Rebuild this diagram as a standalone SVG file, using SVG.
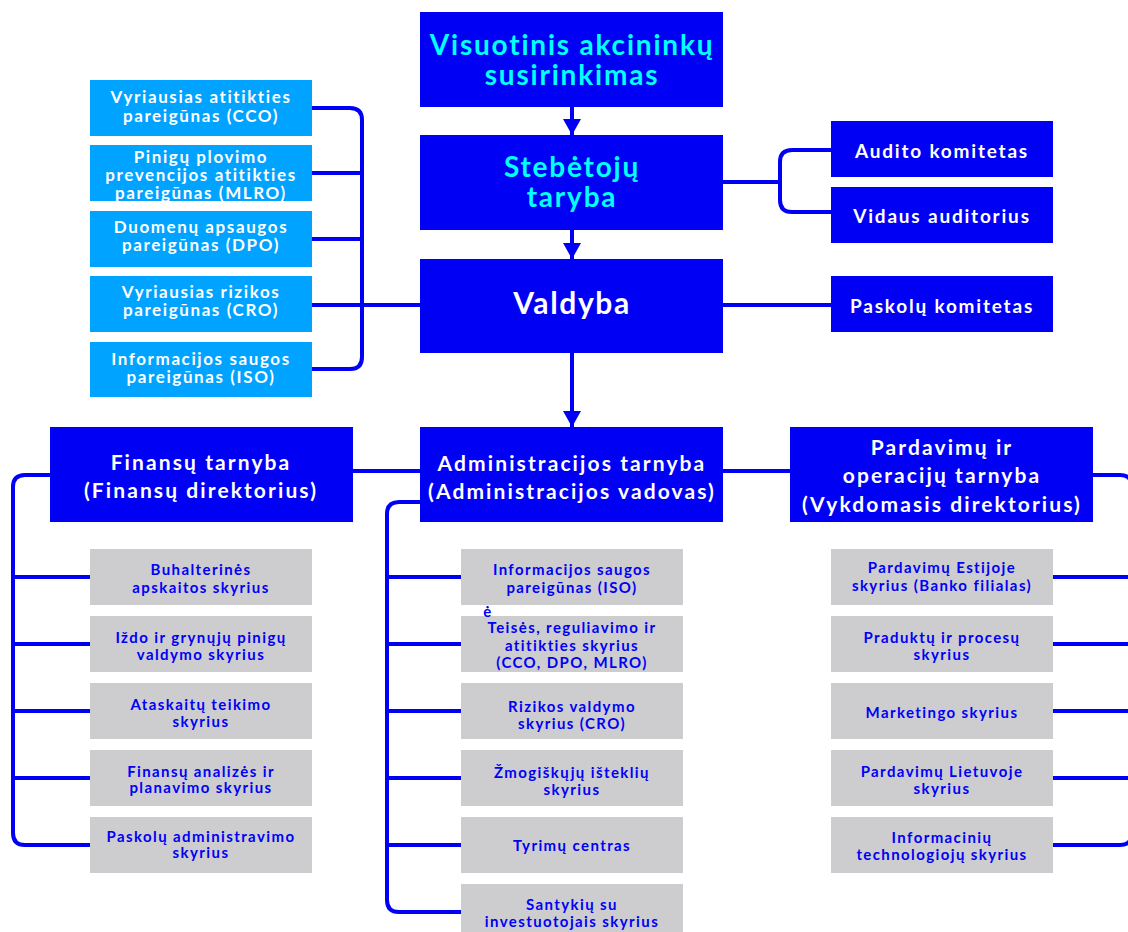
<svg xmlns="http://www.w3.org/2000/svg" width="1128" height="932" viewBox="0 0 1128 932">
<defs>
<style>
.top{fill:#0000F5}
.lb{fill:#00A3FF}
.gr{fill:#CDCDD0}
.c{fill:none;stroke:#0000F5;stroke-width:4}
text{font-family:"Lato","Liberation Sans",sans-serif;font-weight:bold;text-anchor:middle}
.cy{fill:#00FFFF;font-size:28px;letter-spacing:1.8px}
.w30{fill:#FFFFFF;font-size:30px;letter-spacing:1.6px}
.w20{fill:#FFFFFF;font-size:21px;letter-spacing:2.1px}
.w18{fill:#FFFFFF;font-size:19px;letter-spacing:1.8px}
.w16{fill:#FFFFFF;font-size:17px;letter-spacing:1.6px}
.b15{fill:#0000F5;font-size:15px;letter-spacing:1.4px}
</style>
<marker id="ah" viewBox="0 0 16 18" markerWidth="16" markerHeight="18" refX="16" refY="9" orient="auto" markerUnits="userSpaceOnUse">
<path d="M0,0 L16,9 L0,18 z" fill="#0000F5"/>
</marker>
<clipPath id="clipMlro"><rect x="90" y="145" width="222" height="56"/></clipPath>
</defs>
<rect width="1128" height="932" fill="#FFFFFF"/>

<g id="connectors">
<path class="c" d="M572,107 V135" marker-end="url(#ah)"/>
<path class="c" d="M572,230 V259" marker-end="url(#ah)"/>
<path class="c" d="M572,353 V427" marker-end="url(#ah)"/>
<path class="c" d="M312,108 H350 Q362,108 362,120 V357 Q362,369 350,369 H312"/>
<path class="c" d="M312,173 H362 M312,239 H362 M312,305 H420"/>
<path class="c" d="M723,182 H780"/>
<path class="c" d="M831,150 H792 Q780,150 780,162 V200 Q780,212 792,212 H831"/>
<path class="c" d="M723,305 H831"/>
<path class="c" d="M353,471 H420 M723,471 H790"/>
<path class="c" d="M50,475 H25 Q13,475 13,487 V833 Q13,845 25,845 H90"/>
<path class="c" d="M13,577 H90 M13,644 H90 M13,711 H90 M13,778 H90"/>
<path class="c" d="M420,502 H399 Q387,502 387,514 V900 Q387,912 399,912 H461"/>
<path class="c" d="M387,577 H461 M387,644 H461 M387,711 H461 M387,778 H461 M387,845 H461"/>
<path class="c" d="M1093,475 H1120 Q1132,475 1132,487 V833 Q1132,845 1120,845 H1053"/>
<path class="c" d="M1053,577 H1132 M1053,644 H1132 M1053,711 H1132 M1053,778 H1132"/>
</g>

<g id="n-visuotinis"><rect class="top" x="420" y="12" width="303" height="95"/>
<text class="cy" x="572" y="55">Visuotinis akcininkų</text><text class="cy" x="572" y="85">susirinkimas</text></g>
<g id="n-stebetoju"><rect class="top" x="420" y="135" width="303" height="95"/>
<text class="cy" x="572" y="177">Stebėtojų</text><text class="cy" x="572" y="207">taryba</text></g>
<g id="n-valdyba"><rect class="top" x="420" y="259" width="303" height="94"/>
<text class="w30" x="572" y="314">Valdyba</text></g>

<g id="n-audito"><rect class="top" x="831" y="121" width="222" height="56"/><text class="w18" x="942" y="158">Audito komitetas</text></g>
<g id="n-vidaus"><rect class="top" x="831" y="187" width="222" height="56"/><text class="w18" x="942" y="223">Vidaus auditorius</text></g>
<g id="n-paskolu-kom"><rect class="top" x="831" y="276" width="222" height="56"/><text class="w18" x="942" y="313">Paskolų komitetas</text></g>

<g id="n-cco"><rect class="lb" x="90" y="80" width="222" height="56"/>
<text class="w16" x="201" y="103">Vyriausias atitikties</text><text class="w16" x="201" y="122">pareigūnas (CCO)</text></g>
<g id="n-mlro"><rect class="lb" x="90" y="145" width="222" height="56"/>
<g clip-path="url(#clipMlro)"><text class="w16" x="201" y="163">Pinigų plovimo</text><text class="w16" x="201" y="181">prevencijos atitikties</text><text class="w16" x="201" y="199">pareigūnas (MLRO)</text></g></g>
<g id="n-dpo"><rect class="lb" x="90" y="211" width="222" height="56"/>
<text class="w16" x="201" y="233">Duomenų apsaugos</text><text class="w16" x="201" y="251">pareigūnas (DPO)</text></g>
<g id="n-cro"><rect class="lb" x="90" y="276" width="222" height="56"/>
<text class="w16" x="201" y="298">Vyriausias rizikos</text><text class="w16" x="201" y="316">pareigūnas (CRO)</text></g>
<g id="n-iso"><rect class="lb" x="90" y="342" width="222" height="55"/>
<text class="w16" x="201" y="365">Informacijos saugos</text><text class="w16" x="201" y="383">pareigūnas (ISO)</text></g>

<g id="n-finansu"><rect class="top" x="50" y="427" width="303" height="95"/>
<text class="w20" x="201" y="470">Finansų tarnyba</text><text class="w20" x="201" y="498">(Finansų direktorius)</text></g>
<g id="n-admin"><rect class="top" x="420" y="427" width="303" height="95"/>
<text class="w20" x="572" y="471">Administracijos tarnyba</text><text class="w20" x="572" y="499">(Administracijos vadovas)</text></g>
<g id="n-pardavimu"><rect class="top" x="790" y="427" width="303" height="95"/>
<text class="w20" x="942" y="455">Pardavimų ir</text><text class="w20" x="942" y="483">operacijų tarnyba</text><text class="w20" x="942" y="512">(Vykdomasis direktorius)</text></g>

<g id="n-buh"><rect class="gr" x="90" y="549" width="222" height="56"/><text class="b15" x="201" y="575">Buhalterinės</text><text class="b15" x="201" y="593">apskaitos skyrius</text></g>
<g id="n-izdo"><rect class="gr" x="90" y="616" width="222" height="56"/><text class="b15" x="201" y="643">Iždo ir grynųjų pinigų</text><text class="b15" x="201" y="660">valdymo skyrius</text></g>
<g id="n-atask"><rect class="gr" x="90" y="683" width="222" height="56"/><text class="b15" x="201" y="710">Ataskaitų teikimo</text><text class="b15" x="201" y="727">skyrius</text></g>
<g id="n-analizes"><rect class="gr" x="90" y="750" width="222" height="56"/><text class="b15" x="201" y="777">Finansų analizės ir</text><text class="b15" x="201" y="793">planavimo skyrius</text></g>
<g id="n-paskolu-adm"><rect class="gr" x="90" y="817" width="222" height="56"/><text class="b15" x="201" y="842">Paskolų administravimo</text><text class="b15" x="201" y="858">skyrius</text></g>

<g id="n-iso2"><rect class="gr" x="461" y="549" width="222" height="56"/><text class="b15" x="572" y="575">Informacijos saugos</text><text class="b15" x="572" y="593">pareigūnas (ISO)</text></g>
<g id="n-teises"><rect class="gr" x="461" y="616" width="222" height="56"/><text class="b15" x="572" y="633">Teisės, reguliavimo ir</text><text class="b15" x="572" y="651">atitikties skyrius</text><text class="b15" x="572" y="668">(CCO, DPO, MLRO)</text>
<text class="b15" x="488" y="617">ė</text></g>
<g id="n-rizikos"><rect class="gr" x="461" y="683" width="222" height="56"/><text class="b15" x="572" y="712">Rizikos valdymo</text><text class="b15" x="572" y="729">skyrius (CRO)</text></g>
<g id="n-zmog"><rect class="gr" x="461" y="750" width="222" height="56"/><text class="b15" x="572" y="778">Žmogiškųjų išteklių</text><text class="b15" x="572" y="795">skyrius</text></g>
<g id="n-tyrimu"><rect class="gr" x="461" y="817" width="222" height="56"/><text class="b15" x="572" y="851">Tyrimų centras</text></g>
<g id="n-santykiu"><rect class="gr" x="461" y="884" width="222" height="56"/><text class="b15" x="572" y="910">Santykių su</text><text class="b15" x="572" y="927">investuotojais skyrius</text></g>

<g id="n-estijoje"><rect class="gr" x="831" y="549" width="222" height="56"/><text class="b15" x="942" y="573">Pardavimų Estijoje</text><text class="b15" x="942" y="591">skyrius (Banko filialas)</text></g>
<g id="n-produktu"><rect class="gr" x="831" y="616" width="222" height="56"/><text class="b15" x="942" y="643">Praduktų ir procesų</text><text class="b15" x="942" y="660">skyrius</text></g>
<g id="n-marketingo"><rect class="gr" x="831" y="683" width="222" height="56"/><text class="b15" x="942" y="718">Marketingo skyrius</text></g>
<g id="n-lietuvoje"><rect class="gr" x="831" y="750" width="222" height="56"/><text class="b15" x="942" y="777">Pardavimų Lietuvoje</text><text class="b15" x="942" y="794">skyrius</text></g>
<g id="n-it"><rect class="gr" x="831" y="817" width="222" height="56"/><text class="b15" x="942" y="843">Informacinių</text><text class="b15" x="942" y="860">technologiojų skyrius</text></g>
</svg>
